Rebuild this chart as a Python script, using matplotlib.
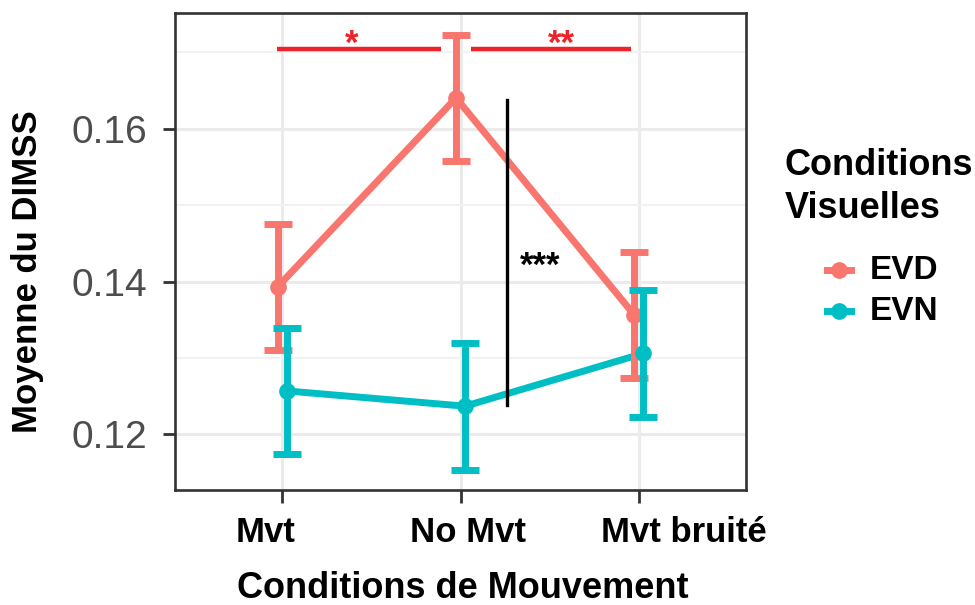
import matplotlib.pyplot as plt
from matplotlib.lines import Line2D
from matplotlib.ticker import MultipleLocator
from matplotlib.transforms import ScaledTranslation

plt.rcParams['font.family'] = ['Liberation Sans', 'DejaVu Sans']

# --- data ---
conditions = ['Mvt', 'No Mvt', 'Mvt bruité']
groups = ['EVD', 'EVN']
evd_mean = [0.1393, 0.1640, 0.1356]
evd_err = [0.0082, 0.0082, 0.0082]
evn_mean = [0.1257, 0.1237, 0.1306]
evn_err = [0.0082, 0.0083, 0.0083]
colors = {'EVD': '#F8766D', 'EVN': '#00BFC4'}

# significance annotations (x in category units, y in data units)
sig_red = [((0.972, 1.889), 0.1704, 1.392, '*'),
           ((2.058, 2.954), 0.1704, 2.564, '**')]
sig_black = ((2.261, 0.1637, 0.1239), 2.447, '***')

W, H = 975, 605
fig = plt.figure(figsize=(W / 100, H / 100), dpi=100)
L, R, T, B = 175, 746, 13, 489.5
ax = fig.add_axes([L / W, 1 - B / H, (R - L) / W, (B - T) / H])

dodge = 0.025
xs = [1, 2, 3]
for name, mean, err, off in [('EVD', evd_mean, evd_err, -dodge),
                             ('EVN', evn_mean, evn_err, dodge)]:
    xp = [x + off for x in xs]
    c = colors[name]
    ax.plot(xp, mean, color=c, lw=5, solid_capstyle='butt', zorder=3)
    ax.plot(xp, mean, 'o', color=c, ms=11, zorder=4)
    ax.errorbar(xp, mean, yerr=err, fmt='none', ecolor=c, elinewidth=5,
                capsize=10, capthick=5, zorder=4)

red = '#EE2328'
for (x0, x1), y, xt, s in sig_red:
    ax.plot([x0, x1], [y, y], color=red, lw=3.2, solid_capstyle='butt', zorder=5)
    ax.text(xt, 0.16974, s, color=red, fontsize=25, fontweight='bold',
            ha='center', va='baseline', zorder=5)
(xb, y0, y1), xt, s = sig_black
ax.plot([xb, xb], [y0, y1], color='black', lw=2.4, zorder=5)
ax.text(xt, 0.14072, s, color='black', fontsize=25, fontweight='bold',
        ha='center', va='baseline', zorder=5)

# --- axes styling (ggplot theme_bw look) ---
ax.set_xlim(0.4, 3.6)
ax.set_ylim(0.11281, 0.17510)
ax.set_xticks(xs)
ax.set_xticklabels(conditions, fontsize=25, fontweight='bold', color='black')
ax.yaxis.set_major_locator(MultipleLocator(0.02))
ax.yaxis.set_minor_locator(MultipleLocator(0.01))
ax.set_yticks([0.12, 0.14, 0.16])
ax.set_yticklabels(['0.12', '0.14', '0.16'], fontsize=28, color='#4D4D4D')
ax.grid(which='major', color='#EBEBEB', lw=2.2, zorder=0)
ax.grid(which='minor', axis='y', color='#F2F2F2', lw=1.4, zorder=0)
ax.set_axisbelow(True)
ax.tick_params(which='major', length=9, width=2, color='#333333')
ax.tick_params(axis='y', pad=11)
ax.tick_params(axis='x', pad=10)
ax.tick_params(which='minor', length=0)
for sp in ax.spines.values():
    sp.set_color('#333333')
    sp.set_linewidth(1.9)

# tick labels sit a bit off their ticks in the reference
shifts = [-16, 7, 45]
for lab, dx in zip(ax.get_xticklabels(), shifts):
    lab.set_transform(lab.get_transform() + ScaledTranslation(dx / 100, 0, fig.dpi_scale_trans))

fig.text(463 / W, 1 - 588 / H, 'Conditions de Mouvement', fontsize=26,
         fontweight='bold', ha='center', va='center')
fig.text(28 / W, 1 - 272 / H, 'Moyenne du DIMSS', fontsize=25,
         fontweight='bold', ha='center', va='center', rotation=90)

# --- legend ---
fig.text(785 / W, 1 - 175 / H, 'Conditions', fontsize=26, fontweight='bold',
         ha='left', va='baseline')
fig.text(785 / W, 1 - 218 / H, 'Visuelles', fontsize=26, fontweight='bold',
         ha='left', va='baseline')
for i, name in enumerate(groups):
    yk = 1 - (270 + 41 * i) / H
    fig.add_artist(Line2D([827 / W, 851 / W], [yk, yk], color=colors[name], lw=5,
                          transform=fig.transFigure))
    fig.add_artist(Line2D([839 / W], [yk], marker='o', ms=11, color=colors[name],
                          transform=fig.transFigure))
    fig.text(870 / W, yk, name, fontsize=24, fontweight='bold', ha='left', va='center')

fig.savefig('out.png', dpi=100)
